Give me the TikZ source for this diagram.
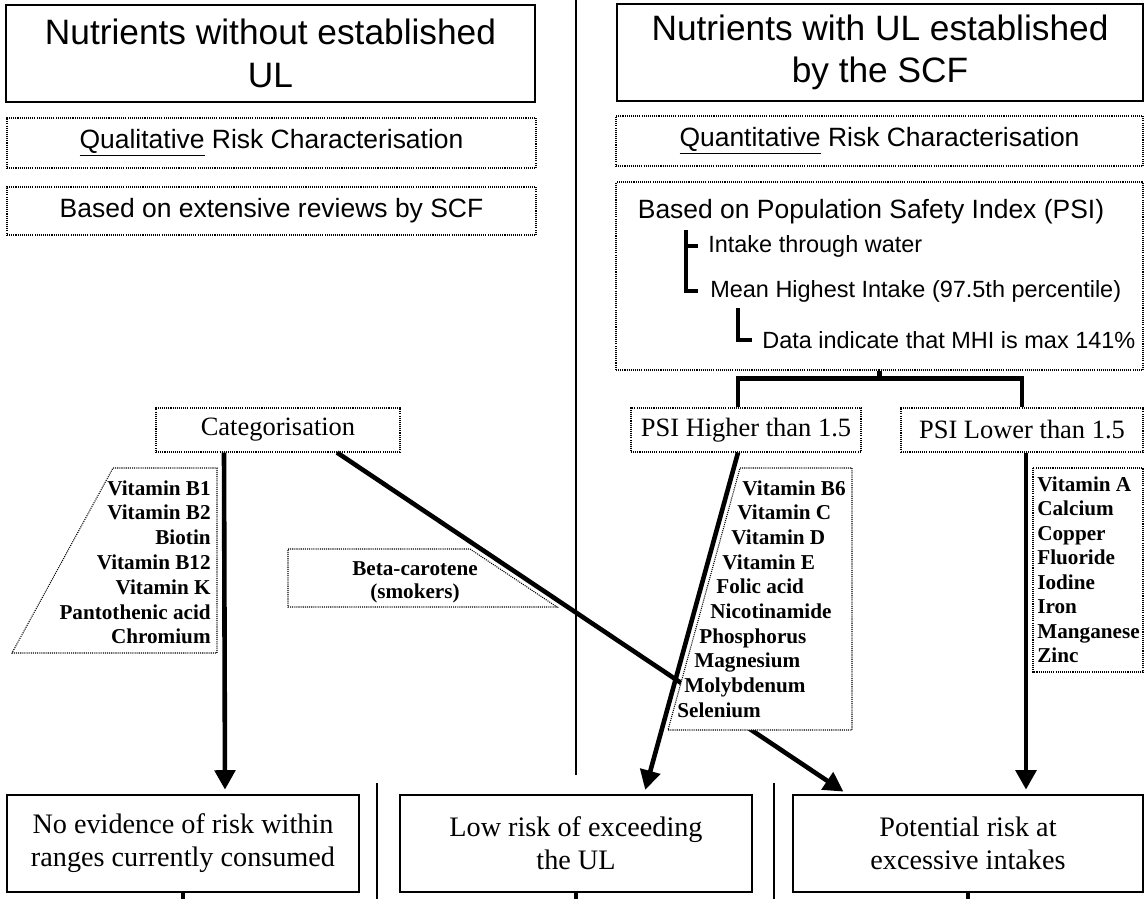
\documentclass[tikz,border=0pt]{standalone}
\usepackage{fontspec}
\setmainfont{Liberation Serif}
\setsansfont{Liberation Sans}
\usetikzlibrary{calc,arrows.meta,positioning}
\newcommand{\pxl}{0.5669pt}

\begin{document}
\begin{tikzpicture}[%
    x=0.5669pt, y=-0.5669pt,%
    solidbox/.style={draw, line width=1.1pt, inner sep=0pt, align=center},%
    dotbox/.style={draw, line width=0.6pt, dash pattern=on 0.6pt off 0.6pt, inner sep=0pt, align=center},%
    dotline/.style={line width=0.6pt, dash pattern=on 0.6pt off 0.6pt},%
    thickline/.style={line width=2.6pt},%
    arrow/.style={thickline, -{Triangle[length=11pt,width=11.5pt]}, shorten >=2.5pt},%
    divider/.style={line width=1.1pt}%
  ]
  % Fonts
  \tikzset{
    headfont/.style={font=\sffamily\fontsize{20}{24}\selectfont},
    subfont/.style={font=\sffamily\fontsize{15}{18}\selectfont},
    smallfont/.style={font=\sffamily\fontsize{13.3}{16}\selectfont},
    catfont/.style={font=\rmfamily\fontsize{15}{18}\selectfont},
    itemfont/.style={font=\rmfamily\bfseries\fontsize{12}{13}\selectfont},
    riskfont/.style={font=\rmfamily\fontsize{16}{18.7}\selectfont},
  }
  \useasboundingbox (0,0) rectangle (1144,899);

  %
  % Dividers
  %
  \draw[divider] (576,0) -- (576,775);
  \draw[divider] (377,783) -- (377,899);
  \draw[divider] (774,783) -- (774,899);

  %
  % Top
  %
  \node[solidbox, headfont, minimum width=529*\pxl, minimum height=97*\pxl] (nowith) at (270.5,53.5) {Nutrients without established\\UL};
  \node[solidbox, headfont, minimum width=526*\pxl, minimum height=97*\pxl] (withul) at (880,52.5) {Nutrients with UL established\\by the SCF};

  \node[dotbox, subfont, minimum width=529*\pxl, minimum height=50*\pxl] (quali) at (271.5,143) {\underline{Qualitative} Risk Characterisation};
  \node[dotbox, subfont, minimum width=527*\pxl, minimum height=50*\pxl] (quanti) at (879.5,141) {\underline{Quantitative} Risk Characterisation};
  \node[dotbox, subfont, minimum width=529*\pxl, minimum height=48*\pxl] (extens) at (271.5,211) {Based on extensive reviews by SCF};

  % PSI
  \node[dotbox, minimum width=527*\pxl, minimum height=188*\pxl] (psibox) at (879.5,276) {};
  \node[subfont, inner sep=0pt] (psititle) at (871,212) {Based on Population Safety Index (PSI)};
  \node[smallfont, inner sep=0pt, anchor=west] (intake) at (708,246) {Intake through water};
  \node[smallfont, inner sep=0pt, anchor=west] (mhi) at (710,291) {Mean Highest Intake (97.5th percentile)};
  \node[smallfont, inner sep=0pt, anchor=west] (mhidata) at (762,340) {Data indicate that MHI is max 141\%};
  \draw[thickline] ($(intake.west)+(-22,-16)$) |- ($(mhi.west)+(-12,0)$);
  \draw[thickline] ($(intake.west)+(-22,0)$) -- ($(intake.west)+(-10,0)$);
  \draw[thickline] ($(mhidata.west)+(-24,-32)$) |- ($(mhidata.west)+(-10,0)$);

  %
  % Categories
  %
  \node[dotbox, catfont, minimum width=244*\pxl, minimum height=44*\pxl] (categ) at (278,430) {Categorisation};
  \node[dotbox, catfont, minimum width=230*\pxl, minimum height=44*\pxl] (psihigh) at (746,430) {PSI Higher than 1.5};
  \node[dotbox, catfont, minimum width=242*\pxl, minimum height=44*\pxl] (psilow) at (1022,430) {PSI Lower than 1.5};

  \draw[thickline] (psibox.south) -- ($(psibox.south)+(0,8)$) coordinate (split);
  \draw[thickline] ($(psihigh.north)+(-8,0)$) |- (split) -| (psilow.north);

  %
  % Risk
  %
  \node[solidbox, riskfont, minimum width=352*\pxl, minimum height=97*\pxl] (noevid) at (183,843.5) {No evidence of risk within\\ranges currently consumed};
  \node[solidbox, riskfont, minimum width=352*\pxl, minimum height=97*\pxl] (lowrisk) at (576,843.5) {Low risk of exceeding\\the UL};
  \node[solidbox, riskfont, minimum width=350*\pxl, minimum height=97*\pxl] (potrisk) at (968,843.5) {Potential risk at\\excessive intakes};

  \draw[thickline] (noevid.south) -- ++(0,12);
  \draw[thickline] (lowrisk.south) -- ++(0,12);
  \draw[thickline] (potrisk.south) -- ++(0,12);

  % Arrows
  \draw[arrow] ($(categ.south)+(-54,0)$) -- ($(noevid.north)+(42,0)$);
  \draw[arrow] ($(categ.south)+(59,0)$) -- ($(potrisk.north)+(-121,0)$);
  \draw[arrow] ($(psilow.south)+(4,0)$) -- ($(potrisk.north)+(58,0)$);

  %
  % Lists
  %
  \draw[dotline, fill=white] (113,468) -- (217,468) -- (217,653) -- (12,653) -- cycle;
  \foreach \nut [count=\i from 0] in {Vitamin B1,Vitamin B2,Biotin,Vitamin B12,Vitamin K,Pantothenic acid,Chromium}
    \node[itemfont, anchor=base east, inner sep=0pt] (nowl\i) at (211,495+24.8*\i) {\nut};

  \draw[dotline, fill=white] (288,549) -- (470,549) -- (557,607) -- (288,607) -- cycle;
  \node[itemfont, align=center, inner sep=0pt] (beta) at (415,582) {Beta-carotene\\(smokers)};

  \draw[dotline, fill=white] (740,468) -- (852,468) -- (852,730) -- (668,730) -- cycle;
  \foreach \nut/\xs [count=\i from 0] in {Vitamin B6/742,Vitamin C/737,Vitamin D/731,Vitamin E/722,Folic acid/716,Nicotinamide/710,Phosphorus/699,Magnesium/694,Molybdenum/684,Selenium/677}
    \node[itemfont, anchor=base west, inner sep=0pt] (hil\i) at (\xs,495+24.7*\i) {\nut};
  \draw[arrow] ($(psihigh.south)+(-8,0)$) -- ($(lowrisk.north)+(68,0)$);

  \draw[dotline, fill=white] (1033,468) rectangle (1143,672);
  \foreach \nut [count=\i from 0] in {Vitamin A,Calcium,Copper,Fluoride,Iodine,Iron,Manganese,Zinc}
    \node[itemfont, anchor=base west, inner sep=0pt] (lowl\i) at (1037,491+24.5*\i) {\nut};

\end{tikzpicture}
\end{document}
